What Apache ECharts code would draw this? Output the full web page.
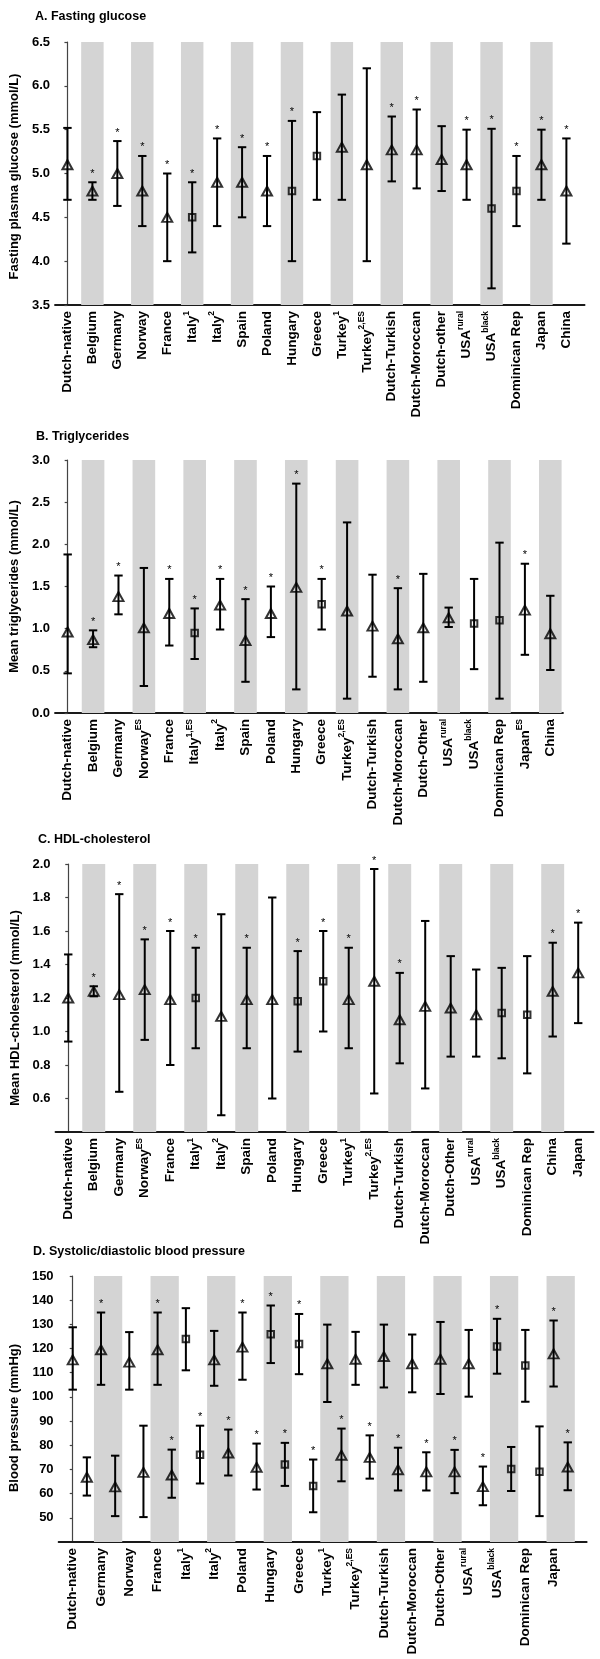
<!DOCTYPE html>
<html><head><meta charset="utf-8">
<script src="https://cdn.jsdelivr.net/npm/echarts@6/dist/echarts.min.js"></script>
<style>html,body{margin:0;padding:0;background:#fff}#c{width:600px;height:1659px}</style>
</head><body><div id="c"></div>
<script>
// ---------- Panel A: fasting glucose ----------
const catsA = ['Dutch-native','Belgium','Germany','Norway','France','Italy^1','Italy^2','Spain','Poland','Hungary','Greece','Turkey^1','Turkey^2,ES','Dutch-Turkish','Dutch-Moroccan','Dutch-other','USA^rural','USA^black','Dominican Rep','Japan','China'];
const meanA = [5.10,4.80,5.00,4.80,4.50,4.50,4.90,4.90,4.80,4.80,5.20,5.30,5.10,5.27,5.27,5.16,5.10,4.60,4.80,5.10,4.80];
const upA   = [5.52,4.90,5.37,5.20,5.00,4.90,5.40,5.30,5.20,5.60,5.70,5.90,6.20,5.65,5.73,5.54,5.50,5.51,5.20,5.50,5.40];
const loA   = [4.70,4.70,4.63,4.40,4.00,4.10,4.40,4.50,4.40,4.00,4.70,4.70,4.00,4.91,4.83,4.80,4.70,3.69,4.40,4.70,4.20];
const starA = [0,1,1,1,1,1,1,1,1,1,0,0,0,1,1,0,1,1,1,1,1];
const shapeA = ['t','t','t','t','t','s','t','t','t','s','s','t','t','t','t','t','t','s','s','t','t'];

// ---------- Panel B: triglycerides ----------
const catsB = ['Dutch-native','Belgium','Germany','Norway^ES','France','Italy^1,ES','Italy^2','Spain','Poland','Hungary','Greece','Turkey^2,ES','Dutch-Turkish','Dutch-Moroccan','Dutch-Other','USA^rural','USA^black','Dominican Rep','Japan^ES','China'];
const meanB = [0.96,0.87,1.38,1.01,1.18,0.95,1.28,0.86,1.18,1.49,1.29,1.21,1.03,0.88,1.01,1.13,1.06,1.10,1.22,0.94];
const upB   = [1.88,0.98,1.63,1.72,1.59,1.24,1.59,1.35,1.50,2.72,1.59,2.26,1.64,1.48,1.65,1.25,1.59,2.02,1.77,1.39];
const loB   = [0.47,0.78,1.17,0.32,0.80,0.64,0.99,0.37,0.90,0.28,0.99,0.17,0.43,0.28,0.37,1.02,0.52,0.17,0.69,0.51];
const starB = [0,1,1,0,1,1,1,1,1,1,1,0,0,1,0,0,0,0,1,0];
const shapeB = ['t','t','t','t','t','s','t','t','t','t','s','t','t','t','t','t','s','s','t','t'];

// ---------- Panel C: HDL-cholesterol ----------
const catsC = ['Dutch-native','Belgium','Germany','Norway^ES','France','Italy^1','Italy^2','Spain','Poland','Hungary','Greece','Turkey^1','Turkey^2,ES','Dutch-Turkish','Dutch-Moroccan','Dutch-Other','USA^rural','USA^black','Dominican Rep','China','Japan'];
const meanC = [1.20,1.24,1.22,1.25,1.19,1.20,1.09,1.19,1.19,1.18,1.30,1.19,1.30,1.07,1.15,1.14,1.10,1.11,1.10,1.24,1.35];
const upC   = [1.46,1.27,1.82,1.55,1.60,1.50,1.70,1.50,1.80,1.48,1.60,1.50,1.97,1.35,1.66,1.45,1.37,1.38,1.45,1.53,1.65];
const loC   = [0.94,1.21,0.64,0.95,0.80,0.90,0.50,0.90,0.60,0.88,1.00,0.90,0.63,0.81,0.66,0.85,0.85,0.84,0.75,0.97,1.05];
const starC = [0,1,1,1,1,1,0,1,0,1,1,1,1,1,0,0,0,0,0,1,1];
const shapeC = ['t','t','t','t','t','s','t','t','t','s','s','t','t','t','t','t','t','s','s','t','t'];

// ---------- Panel D: systolic / diastolic blood pressure ----------
const catsD = ['Dutch-native','Germany','Norway','France','Italy^1','Italy^2','Poland','Hungary','Greece','Turkey^1','Turkey^2,ES','Dutch-Turkish','Dutch-Moroccan','Dutch-Other','USA^rural','USA^black','Dominican Rep','Japan'];
const sysMean = [115.3,119.5,114.4,119.5,123.9,115.3,120.6,125.9,121.9,113.7,115.6,116.7,113.7,115.6,113.7,120.8,113.0,117.8];
const sysUp   = [128.8,134.9,126.8,134.9,136.7,127.3,134.9,137.8,134.3,129.9,126.9,129.9,125.8,131.0,127.7,132.3,127.7,131.6];
const sysLo   = [103.0,105.0,103.0,105.0,111.0,104.6,107.1,114.0,109.4,97.9,105.0,103.9,101.9,101.2,100.1,109.6,98.0,104.3];
const sysStar = [0,1,0,1,0,0,1,1,1,0,0,0,0,0,0,1,0,1];
const diaMean = [66.8,62.8,68.8,67.7,76.1,76.8,70.9,72.0,63.2,75.9,75.0,69.9,69.0,69.0,62.9,70.2,69.1,71.0];
const diaUp   = [75.0,75.7,88.1,78.2,88.1,86.5,80.7,81.0,74.1,86.9,84.1,79.0,77.1,78.1,71.2,79.3,87.8,81.2];
const diaLo   = [59.2,50.7,50.3,58.3,64.2,67.5,61.7,63.2,52.3,65.1,66.2,61.3,61.3,60.2,55.2,61.1,50.7,61.4];
const diaStar = [0,0,0,1,1,1,1,1,1,1,1,1,1,1,1,0,0,1];
const shapeD = ['t','t','t','t','s','t','t','s','s','t','t','t','t','t','t','s','s','t'];

// ---------- layout / style ----------
const FONT = '"Liberation Sans", Arial, Helvetica, sans-serif';
const panels = [
  { title:'A. Fasting glucose', titlePos:{left:35, top:10}, yName:'Fasting plasma glucose (mmol/L)', namePad:[0,6,0,0], nameGap:28,
    cats:catsA, sets:[{mean:meanA, up:upA, lo:loA, star:starA, shape:shapeA, dx:0}],
    ymin:3.5, ymax:6.5, yint:0.5, dec:1, showMin:true, xmin:-0.5, xmax:20.73, bandOff:0, bandW:0.9,
    grid:{left:53.2, right:15.4, top:42, bottom:1354} },
  { title:'B. Triglycerides', titlePos:{left:36, top:430}, yName:'Mean triglycerides (mmol/L)', namePad:[0,0,0,0], nameGap:27,
    cats:catsB, sets:[{mean:meanB, up:upB, lo:loB, star:starB, shape:shapeB, dx:0}],
    ymin:0, ymax:3, yint:0.5, dec:1, showMin:true, xmin:-0.5, xmax:19.5, bandOff:0, bandW:0.89,
    grid:{left:53, right:37, top:460, bottom:946} },
  { title:'C. HDL-cholesterol', titlePos:{left:38, top:833}, yName:'Mean HDL-cholesterol (mmol/L)', namePad:[0,20,0,0], nameGap:25,
    cats:catsC, sets:[{mean:meanC, up:upC, lo:loC, star:starC, shape:shapeC, dx:0}],
    ymin:0.4, ymax:2.0, yint:0.2, dec:1, showMin:false, xmin:-0.5, xmax:20.6, bandOff:0, bandW:0.9,
    grid:{left:55.5, right:6.5, top:864, bottom:527} },
  { title:'D. Systolic/diastolic blood pressure', titlePos:{left:33, top:1245}, yName:'Blood pressure (mmHg)', namePad:[0,18,0,0], nameGap:29,
    cats:catsD, sets:[{mean:sysMean, up:sysUp, lo:sysLo, star:sysStar, shape:shapeD, dx:0},
                      {mean:diaMean, up:diaUp, lo:diaLo, star:diaStar, shape:shapeD, dx:0.5}],
    ymin:40, ymax:150, yint:10, dec:0, showMin:false, xmin:-0.5, xmax:18.17, bandOff:0.25, bandW:1.0,
    grid:{left:54.2, right:13.3, top:1276, bottom:117} }
];

function fmtCat(s){ const m = s.match(/^(.*)\^(.*)$/); return m ? m[1] + '{s|' + m[2] + '}' : s; }

const option = { animation:false, backgroundColor:'#fff', title:[], grid:[], xAxis:[], yAxis:[], series:[] };

panels.forEach((p, k) => {
  option.title.push({ text:p.title, left:p.titlePos.left, top:p.titlePos.top, padding:0,
    textStyle:{ fontSize:12.5, fontWeight:'bold', color:'#000', fontFamily:FONT } });
  option.grid.push(Object.assign({ containLabel:false }, p.grid));
  option.xAxis.push({
    type:'value', gridIndex:k, min:p.xmin, max:p.xmax, interval:0.25,
    splitLine:{show:false}, axisTick:{show:false},
    axisLine:{show:true, onZero:false, lineStyle:{color:'#1a1a1a', width:1.8}},
    axisLabel:{ rotate:90, margin:6, fontSize:13.5, fontWeight:'bold', color:'#000', fontFamily:FONT, lineHeight:20,
      showMinLabel:false, showMaxLabel:false,
      formatter:(v) => { const i = Math.round(v); return (Math.abs(v - i) < 1e-6 && i >= 0 && i < p.cats.length) ? fmtCat(p.cats[i]) : ''; },
      rich:{ s:{ fontSize:8.5, fontWeight:'bold', color:'#000', fontFamily:FONT, verticalAlign:'top', lineHeight:10 } } }
  });
  option.yAxis.push({
    type:'value', gridIndex:k, min:p.ymin, max:p.ymax, interval:p.yint,
    splitLine:{show:false},
    axisLine:{show:true, lineStyle:{color:'#444', width:1.2}},
    axisTick:{show:true, length:3, lineStyle:{color:'#444', width:1.2}},
    axisLabel:{ fontSize:13, fontWeight:'bold', color:'#000', fontFamily:FONT, margin:5, showMinLabel:p.showMin,
      formatter:(v) => v.toFixed(p.dec) },
    name:p.yName, nameLocation:'middle', nameGap:p.nameGap,
    nameTextStyle:{ fontSize:13, fontWeight:'bold', color:'#000', fontFamily:FONT, padding:p.namePad }
  });

  // gray bands on every second category
  const bands = [];
  p.cats.forEach((c, i) => { if (i % 2 === 1) bands.push([i + p.bandOff, p.ymax]); });
  option.series.push({
    type:'custom', xAxisIndex:k, yAxisIndex:k, silent:true, z:1, encode:{x:0, y:1}, data:bands,
    renderItem:(params, api) => {
      const x = api.value(0);
      const a = api.coord([x - p.bandW / 2, p.ymax]);
      const b = api.coord([x + p.bandW / 2, p.ymin]);
      return { type:'rect', shape:{ x:a[0], y:a[1], width:b[0] - a[0], height:b[1] - a[1] }, style:{ fill:'#d4d4d4' } };
    }
  });

  p.sets.forEach((s) => {
    const eb = s.mean.map((m, i) => [i + s.dx, s.lo[i], s.up[i], s.star[i]]);
    option.series.push({
      type:'custom', xAxisIndex:k, yAxisIndex:k, silent:true, z:3, encode:{x:0, y:[1, 2]}, data:eb,
      renderItem:(params, api) => {
        const x = api.value(0), lo = api.value(1), hi = api.value(2), st = api.value(3);
        const a = api.coord([x, hi]), b = api.coord([x, lo]);
        const hw = 4.2;
        const ls = { stroke:'#000', lineWidth:2 };
        const ch = [
          { type:'line', shape:{ x1:a[0], y1:a[1], x2:b[0], y2:b[1] }, style:ls },
          { type:'line', shape:{ x1:a[0] - hw, y1:a[1], x2:a[0] + hw, y2:a[1] }, style:ls },
          { type:'line', shape:{ x1:b[0] - hw, y1:b[1], x2:b[0] + hw, y2:b[1] }, style:ls }
        ];
        if (st) ch.push({ type:'text', x:a[0], y:a[1] - 3,
          style:{ text:'*', fontSize:11, fill:'#000', fontFamily:FONT, align:'center', verticalAlign:'bottom' } });
        return { type:'group', children:ch };
      }
    });
    option.series.push({
      type:'scatter', xAxisIndex:k, yAxisIndex:k, silent:true, z:4,
      data:s.mean.map((m, i) => ({ value:[i + s.dx, m],
        symbol: s.shape[i] === 's' ? 'rect' : 'triangle',
        symbolSize: s.shape[i] === 's' ? 6.5 : [10, 9] })),
      itemStyle:{ color:'rgba(0,0,0,0)', borderColor:'#000', borderWidth:2 }
    });
  });
});

const chart = echarts.init(document.getElementById('c'), null, { renderer:'canvas' });
chart.setOption(option);
</script></body></html>
